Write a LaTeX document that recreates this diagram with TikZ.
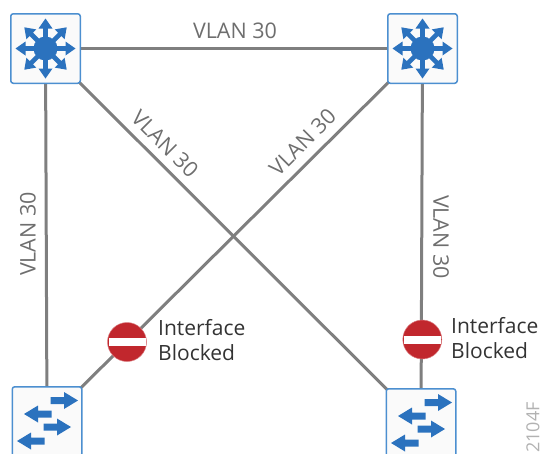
\documentclass[tikz,border=0pt]{standalone}
\usepackage{fontspec}
\setmainfont{Open Sans}
\usetikzlibrary{backgrounds}
\definecolor{ciscoblue}{HTML}{2B72BE}
\definecolor{boxedge}{HTML}{4C8FD0}
\definecolor{linkgrey}{HTML}{7F7F7F}
\definecolor{labelgrey}{HTML}{6E6E6E}
\definecolor{stopred}{HTML}{C1272D}
\tikzset{
  x=1pt,y=-1pt,
  device/.style={draw=boxedge,line width=1.5pt,fill=white!98!black,rounded corners=2.5pt,minimum width=69.5pt,minimum height=69.5pt,inner sep=0pt},
  link/.style={draw=linkgrey,line width=3pt},
  vlanlabel/.style={text=labelgrey,font=\fontsize{21.5}{24}\selectfont,inner sep=0pt},
  ifacelabel/.style={text=black!80,font=\fontsize{21}{24.5}\selectfont,align=left,anchor=west,inner sep=0pt},
  stopsign/.style={circle,fill=stopred,draw=stopred!60!white,line width=.5pt,minimum size=39pt,inner sep=0pt},
  stopbar/.style={fill=white,draw=none},
  iconarrow/.style={fill=ciscoblue,draw=none}
}
\newcommand{\spokeicon}[2]{%
  \fill[iconarrow,shift={(#1)},rotate=#2] (8,-2.3) -- (20,-2.3) -- (20,-7) -- (30,0) -- (20,7) -- (20,2.3) -- (8,2.3) -- cycle;}
\newcommand{\routericon}[1]{%
  \fill[iconarrow] (#1) circle[radius=12];
  \foreach \a in {0,45,...,315}{\spokeicon{#1}{\a}}}
\newcommand{\swicon}[4]{%
  \fill[iconarrow,shift={(#1)},shift={(#2,#3)},xscale=#4] (-13.5,-3.5) -- (0,-3.5) -- (0,-8.5) -- (14,0) -- (0,8.5) -- (0,3.5) -- (-13.5,3.5) -- cycle;}
\newcommand{\switchicon}[1]{%
  \swicon{#1}{17}{-21}{1}
  \swicon{#1}{-9}{-7.5}{-1}
  \swicon{#1}{10}{5.5}{1}
  \swicon{#1}{-16}{19.5}{-1}}
\begin{document}
\begin{tikzpicture}
\useasboundingbox (0,0) rectangle (543,453);
\clip (0,0) rectangle (543,453);
\node[device] (tl) at (45.5,48.5) {};
\node[device] (tr) at (422.5,48.5) {};
\node[device] (bl) at (47,421.5) {};
\node[device] (br) at (421,423.5) {};
\begin{scope}[on background layer]
  \draw[link] (tl) -- (tr);
  \draw[link] (tl.center) -- (bl.center);
  \draw[link] (tr.center) -- (br.center);
  \draw[link] (tl.center) -- (br.center);
  \draw[link] (tr.center) -- (bl.center);
\end{scope}
\routericon{tl}
\routericon{tr}
\switchicon{bl}
\switchicon{br}
\node[stopsign] (s1) at (127,342) {};
\node[stopsign] (s2) at (422.3,339.5) {};
\fill[stopbar] (108.5,338.3) rectangle (145.5,346);
\fill[stopbar] (403.8,335.8) rectangle (440.8,343.5);
\node[vlanlabel] (v1) at (235,31) {VLAN 30};
\node[vlanlabel,rotate=90] (v2) at (28,234) {VLAN 30};
\node[vlanlabel,rotate=-90] (v3) at (441,237) {VLAN 30};
\node[vlanlabel,rotate=-45] (v4) at (165,144) {VLAN 30};
\node[vlanlabel,rotate=45] (v5) at (302.5,142) {VLAN 30};
\node[ifacelabel] (i1) at (158,340) {Interface\\Blocked};
\node[ifacelabel] (i2) at (451,338) {Interface\\Blocked};
\node[text=black!30,font=\fontsize{18}{20}\selectfont,rotate=90,anchor=east,inner sep=0pt] (wm) at (533,402) {2104F};
\end{tikzpicture}
\end{document}
